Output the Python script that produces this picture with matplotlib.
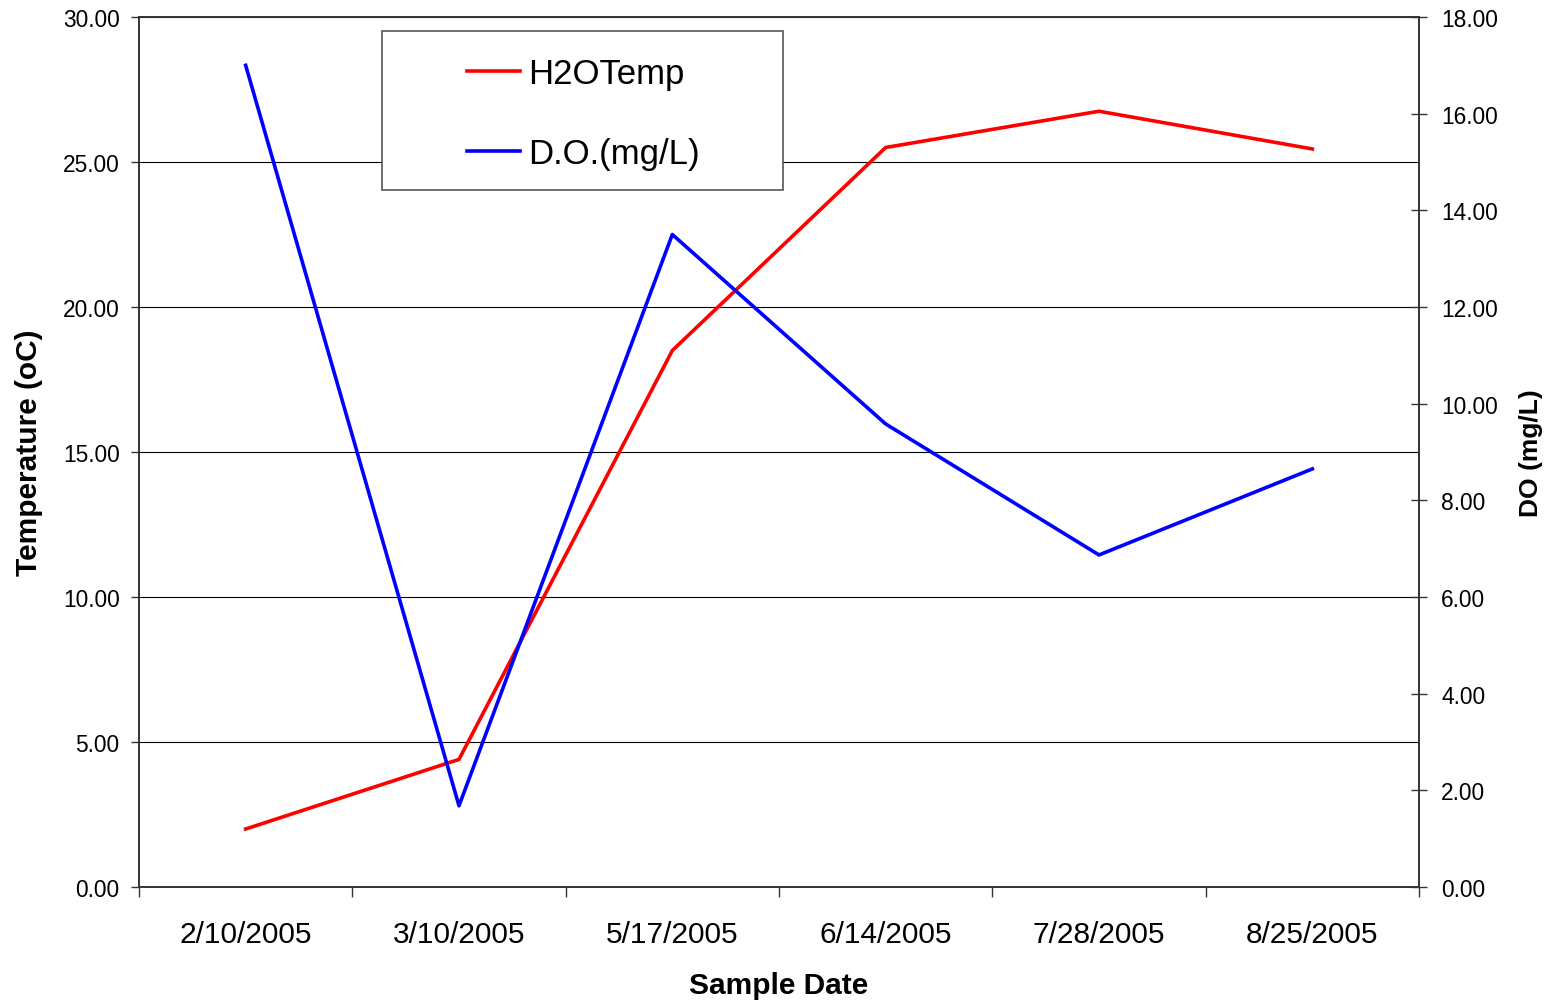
import numpy as np
import matplotlib
matplotlib.use("Agg")
import matplotlib.pyplot as plt
from matplotlib.patches import Rectangle

plt.rcParams['font.family'] = ['Liberation Sans', 'DejaVu Sans']

# data
dates = ["2/10/2005", "3/10/2005", "5/17/2005", "6/14/2005", "7/28/2005", "8/25/2005"]
h2o_temp = [2.0, 4.4, 18.5, 25.5, 26.75, 25.45]
do_mgl = [17.0, 1.68, 13.5, 9.58, 6.87, 8.65]

temp_ticks = [0, 5, 10, 15, 20, 25, 30]
do_ticks = [0, 2, 4, 6, 8, 10, 12, 14, 16, 18]

fig = plt.figure(figsize=(15.53, 10.04), dpi=100)
ax = fig.add_axes([139 / 1553, 1 - 888 / 1004, 1280 / 1553, 870 / 1004])
ax2 = ax.twinx()

x = np.arange(len(dates))
l1, = ax.plot(x, h2o_temp, color='#ff0000', lw=2.6, label='H2OTemp')
l2, = ax2.plot(x, do_mgl, color='#0000ff', lw=2.6, label='D.O.(mg/L)')

ax.set_xlim(-0.5, len(dates) - 0.5)
ax.set_ylim(0, 30)
ax2.set_ylim(0, 18)

# category boundaries as major ticks, labels on minor ticks
ax.set_xticks(np.arange(len(dates) + 1) - 0.5)
ax.set_xticklabels([])
ax.set_xticks(x, minor=True)
ax.set_xticklabels(dates, minor=True, fontsize=21.5)
ax.tick_params(axis='x', which='major', direction='out', length=7, width=1, color='#333333')
ax.tick_params(axis='x', which='minor', length=0, pad=24)

ax.set_yticks(temp_ticks)
ax.set_yticklabels([f"{t:.2f}" for t in temp_ticks], fontsize=16.4)
ax.tick_params(axis='y', direction='out', length=6, width=1, pad=8, color='#333333')
ax.grid(axis='y', color='black', lw=0.8)
ax.set_axisbelow(True)

ax2.set_yticks(do_ticks)
ax2.set_yticklabels([f"{t:.2f}" for t in do_ticks], fontsize=16.4)
ax2.tick_params(axis='y', direction='inout', length=12, width=1, pad=10, color='#333333')

for a in (ax, ax2):
    for s in a.spines.values():
        s.set_color('#333333')
        s.set_linewidth(1.2)

ax.set_xlabel("Sample Date", fontsize=21.5, fontweight='bold', labelpad=16)
ax.set_ylabel("Temperature (oC)", fontsize=21.5, fontweight='bold', labelpad=14)
ax2.set_ylabel("DO (mg/L)", fontsize=19, fontweight='bold', labelpad=15)

# legend box
fig.patches.append(Rectangle((382 / 1553, 1 - 191 / 1004), 401 / 1553, 159 / 1004,
                             transform=fig.transFigure, facecolor='white',
                             edgecolor='#555555', lw=1.2, zorder=5))
leg = fig.legend(handles=[l1, l2], loc='upper left', frameon=False,
                 bbox_to_anchor=(467 / 1553, 1 - 58 / 1004), fontsize=25,
                 handlelength=1.53, handletextpad=0.23, labelspacing=1.36,
                 borderpad=0, borderaxespad=0)
leg.set_zorder(6)

fig.savefig("out.png", dpi=100)
